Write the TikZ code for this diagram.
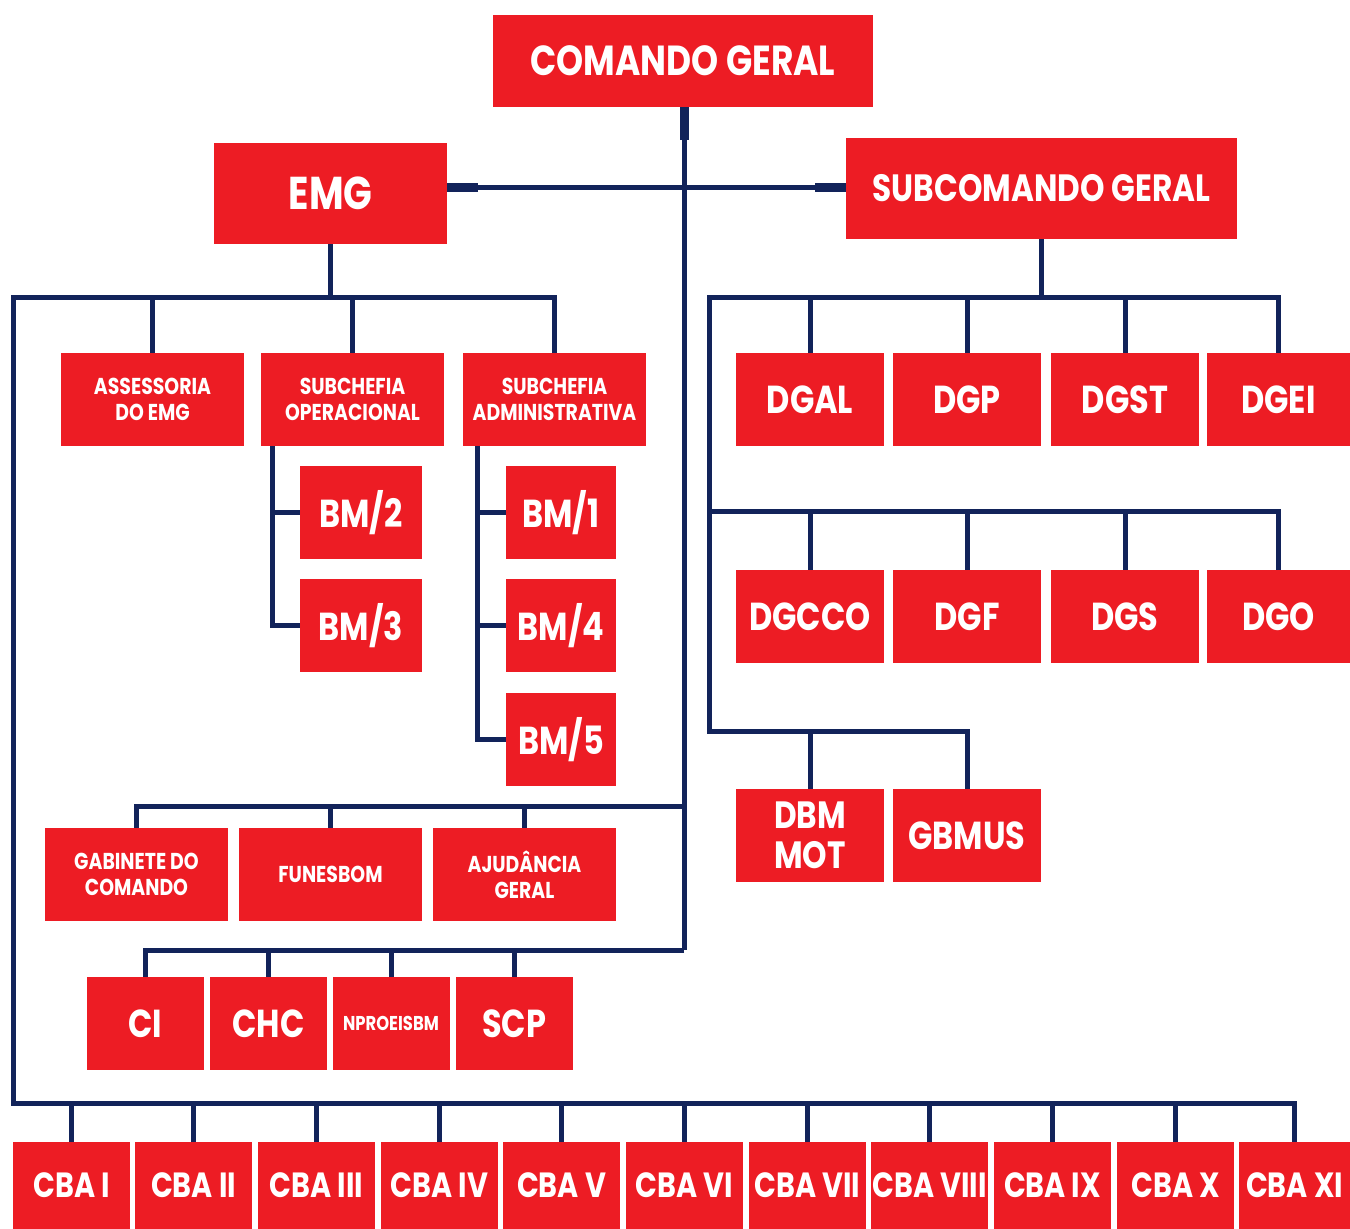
\documentclass[tikz,border=0pt]{standalone}
\usepackage{fontspec}
\setmainfont{Poppins}[FakeStretch=0.82]
\definecolor{orgred}{HTML}{ED1C24}
\definecolor{orgnavy}{HTML}{12235A}
\begin{document}
\begin{tikzpicture}[x=0.5pt,y=-0.5pt,
  box/.style={fill=orgred, text=white, inner sep=0pt, align=center, font=\bfseries},
  sz/.style 2 args={minimum width={#1*0.5pt}, minimum height={#2*0.5pt}},
  big/.style={font=\fontsize{21}{24}\selectfont\bfseries},
  mid/.style={font=\fontsize{19.5}{20}\selectfont\bfseries},
  sml/.style={font=\fontsize{11.5}{13}\selectfont\bfseries},
  conn/.style={draw=orgnavy, line width=2.5pt, line join=miter},
  stub/.style={draw=orgnavy, line width=4.5pt}]
\useasboundingbox (0,0) rectangle (1350,1229);
% top level
\node[box,sz={380}{92},big] (cg) at (683,61) {COMANDO GERAL};
\node[box,sz={233}{101},font=\fontsize{23}{26}\selectfont\bfseries] (emg) at (330.5,193.5) {EMG};
\node[box,sz={391}{101},font=\fontsize{19}{22}\selectfont\bfseries] (scg) at (1041.5,188.5) {SUBCOMANDO GERAL};
% EMG children
\node[box,sz={183}{93},sml] (ass) at (152.5,399.5) {ASSESSORIA\\DO EMG};
\node[box,sz={183}{93},sml] (sop) at (352.5,399.5) {SUBCHEFIA\\OPERACIONAL};
\node[box,sz={183}{93},sml] (sad) at (554.5,399.5) {SUBCHEFIA\\ADMINISTRATIVA};
\node[box,sz={122}{93},mid] (bm2) at (361,512.5) {BM/2};
\node[box,sz={122}{93},mid] (bm3) at (361,625.5) {BM/3};
\node[box,sz={110}{93},mid] (bm1) at (561,512.5) {BM/1};
\node[box,sz={110}{93},mid] (bm4) at (561,625.5) {BM/4};
\node[box,sz={110}{93},mid] (bm5) at (561,739.5) {BM/5};
% middle rows
\node[box,sz={183}{93},sml] (gab) at (136.5,874.5) {GABINETE DO\\COMANDO};
\node[box,sz={183}{93},sml] (fun) at (330.5,874.5) {FUNESBOM};
\node[box,sz={183}{93},sml] (aju) at (524.5,874.5) {AJUDÂNCIA\\GERAL};
\node[box,sz={117}{93},mid] (ci) at (145.5,1023.5) {CI};
\node[box,sz={117}{93},mid] (chc) at (268.5,1023.5) {CHC};
\node[box,sz={117}{93},font=\fontsize{10}{12}\selectfont\bfseries] (npr) at (391,1023.5) {NPROEISBM};
\node[box,sz={117}{93},mid] (scp) at (514,1023.5) {SCP};
% right side
\node[box,sz={148}{93},mid] (dgal) at (810,399.5) {DGAL};
\node[box,sz={148}{93},mid] (dgp) at (967,399.5) {DGP};
\node[box,sz={148}{93},mid] (dgst) at (1125,399.5) {DGST};
\node[box,sz={143}{93},mid] (dgei) at (1278.5,399.5) {DGEI};
\node[box,sz={148}{93},mid] (dgcco) at (810,616.5) {DGCCO};
\node[box,sz={148}{93},mid] (dgf) at (967,616.5) {DGF};
\node[box,sz={148}{93},mid] (dgs) at (1125,616.5) {DGS};
\node[box,sz={143}{93},mid] (dgo) at (1278.5,616.5) {DGO};
\node[box,sz={148}{93},font=\fontsize{19}{20}\selectfont\bfseries] (dbm) at (810,835.5) {DBM\\MOT};
\node[box,sz={148}{93},mid] (gbmus) at (967,835.5) {GBMUS};
% CBAs
\foreach \n/\cx/\w/\t in {1/71.5/117/I,2/193.5/117/II,3/316.5/117/III,4/439.5/117/IV,5/561.5/117/V,6/684.5/117/VI,7/807.5/117/VII,8/929.5/117/VIII,9/1052.5/117/IX,10/1175.5/117/X,11/1294.5/111/XI}
  \node[box,sz={\w}{87},font=\fontsize{17.5}{20}\selectfont\bfseries] (cba\n) at (\cx,1185.5) {CBA \t};
% junction coordinates
\coordinate (trk) at (684,188);
\coordinate (mj1) at (684,806);
\coordinate (mj2) at (684,950);
\coordinate (eL) at (13,298);
\coordinate (bL) at (13,1103);
\coordinate (soT) at (272,446);
\coordinate (saT) at (477,446);
\coordinate (r0) at (709,298);
\coordinate (r1) at (709,512);
\coordinate (r2) at (709,732);
% connectors
\draw[conn] (cg.south -| trk) -- (mj2);
\draw[stub] (cg.south -| trk) -- ++(0,33);
\draw[conn] (emg.east |- trk) -- (scg.west |- trk);
\draw[stub] (emg.east |- trk) -- ++(31,0);
\draw[stub] (scg.west |- trk) -- ++(-31,0);
% EMG tree
\draw[conn] (emg.south) -- (emg.south |- eL);
\draw[conn] (sad.north) -- (sad.north |- eL) -- (eL) -- (bL) -| (cba11.north);
\draw[conn] (ass.north) -- (ass.north |- eL);
\draw[conn] (sop.north) -- (sop.north |- eL);
\foreach \n in {1,...,10} \draw[conn] (cba\n.north) -- (cba\n.north |- bL);
\draw[conn] (soT) |- (bm3.west);
\draw[conn] (bm2.west) -- (bm2.west -| soT);
\draw[conn] (saT) |- (bm5.west);
\draw[conn] (bm1.west) -- (bm1.west -| saT);
\draw[conn] (bm4.west) -- (bm4.west -| saT);
% middle
\draw[conn] (mj1) -| (gab.north);
\draw[conn] (fun.north) -- (fun.north |- mj1);
\draw[conn] (aju.north) -- (aju.north |- mj1);
\draw[conn] (mj2) -| (ci.north);
\draw[conn] (chc.north) -- (chc.north |- mj2);
\draw[conn] (npr.north) -- (npr.north |- mj2);
\draw[conn] (scp.north) -- (scp.north |- mj2);
% right tree
\draw[conn] (scg.south) -- (scg.south |- r0);
\draw[conn] (dgei.north) -- (dgei.north |- r0) -- (r0) -- (r2) -| (gbmus.north);
\draw[conn] (dgal.north) -- (dgal.north |- r0);
\draw[conn] (dgp.north) -- (dgp.north |- r0);
\draw[conn] (dgst.north) -- (dgst.north |- r0);
\draw[conn] (r1) -| (dgo.north);
\draw[conn] (dgcco.north) -- (dgcco.north |- r1);
\draw[conn] (dgf.north) -- (dgf.north |- r1);
\draw[conn] (dgs.north) -- (dgs.north |- r1);
\draw[conn] (dbm.north) -- (dbm.north |- r2);
\end{tikzpicture}
\end{document}
